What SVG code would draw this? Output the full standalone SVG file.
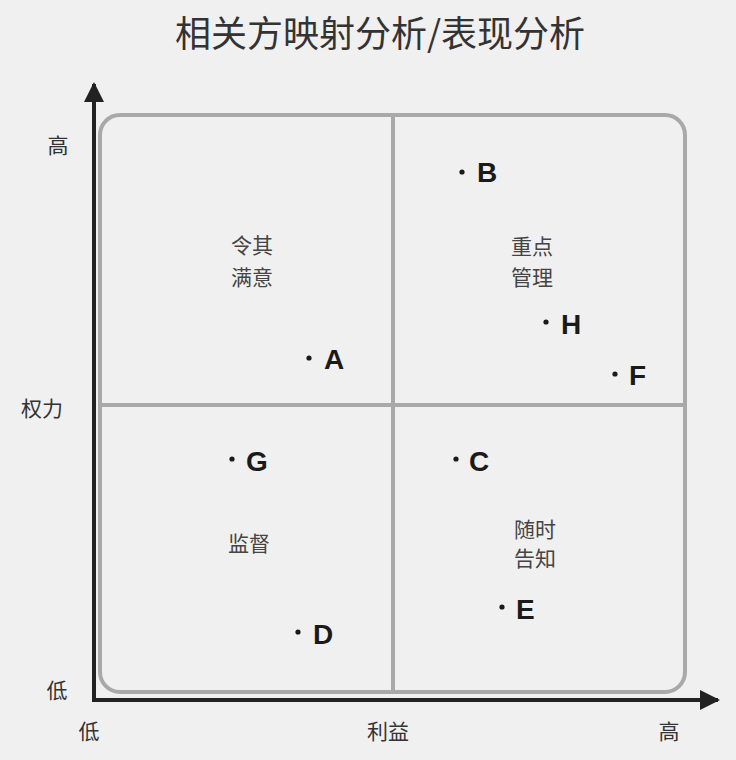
<svg xmlns="http://www.w3.org/2000/svg" width="736" height="760" viewBox="0 0 736 760">
<style>
.cjk{font-family:"Noto Sans CJK SC","Noto Sans",sans-serif;fill:#333}
.title{font-size:36px;text-anchor:middle;font-weight:normal}
.quad{font-size:21px;text-anchor:middle;fill:#444}
.axl{font-size:21px;text-anchor:middle}
.pt{font-family:"Liberation Sans",Arial,sans-serif;font-weight:bold;font-size:28px;fill:#1a1a1a}
.dot{fill:#1a1a1a}
.grid{stroke:#a9a9a9;stroke-width:4;fill:none}
.axis{stroke:#222;stroke-width:4;fill:none}
</style>
<defs>
<marker id="arr" viewBox="0 0 10 10" refX="9" refY="5" markerWidth="5.5" markerHeight="5" markerUnits="strokeWidth" orient="auto">
<path d="M0,0 L10,5 L0,10 Z" fill="#222"/>
</marker>
</defs>
<rect width="736" height="760" fill="#f0f0f0"/>
<text class="cjk title" x="380" y="47">相关方映射分析/表现分析</text>
<g id="frame">
<rect class="grid" x="100" y="115" width="585" height="577" rx="20" ry="20" fill="#fafafa"/>
<line class="grid" x1="393" y1="115" x2="393" y2="692"/>
<line class="grid" x1="100" y1="405" x2="685" y2="405"/>
</g>
<g id="connectors">
<line class="axis" x1="94" y1="702" x2="94" y2="84" marker-end="url(#arr)"/>
<line class="axis" x1="92" y1="700" x2="718" y2="700" marker-end="url(#arr)"/>
</g>
<g id="axis-labels">
<text class="cjk axl" x="58" y="153">高</text>
<text class="cjk axl" x="42" y="416">权力</text>
<text class="cjk axl" x="57" y="698">低</text>
<text class="cjk axl" x="89" y="739">低</text>
<text class="cjk axl" x="388" y="739">利益</text>
<text class="cjk axl" x="669" y="739">高</text>
</g>
<g id="q-keep-satisfied">
<text class="cjk quad" x="252" y="253">令其</text>
<text class="cjk quad" x="252" y="285">满意</text>
</g>
<g id="q-manage-closely">
<text class="cjk quad" x="532" y="254">重点</text>
<text class="cjk quad" x="532" y="285">管理</text>
</g>
<g id="q-monitor">
<text class="cjk quad" x="249" y="551">监督</text>
</g>
<g id="q-keep-informed">
<text class="cjk quad" x="535" y="537">随时</text>
<text class="cjk quad" x="535" y="566">告知</text>
</g>
<g id="point-A"><circle class="dot" cx="309" cy="358" r="2.6"/><text class="pt" x="324" y="369">A</text></g>
<g id="point-B"><circle class="dot" cx="462" cy="172" r="2.6"/><text class="pt" x="477" y="182">B</text></g>
<g id="point-H"><circle class="dot" cx="546" cy="322" r="2.6"/><text class="pt" x="561" y="334">H</text></g>
<g id="point-F"><circle class="dot" cx="615" cy="374" r="2.6"/><text class="pt" x="629" y="385">F</text></g>
<g id="point-G"><circle class="dot" cx="232" cy="459" r="2.6"/><text class="pt" x="246" y="471">G</text></g>
<g id="point-C"><circle class="dot" cx="456" cy="459" r="2.6"/><text class="pt" x="469" y="471">C</text></g>
<g id="point-E"><circle class="dot" cx="502" cy="607" r="2.6"/><text class="pt" x="516" y="619">E</text></g>
<g id="point-D"><circle class="dot" cx="298" cy="632" r="2.6"/><text class="pt" x="313" y="644">D</text></g>
</svg>
